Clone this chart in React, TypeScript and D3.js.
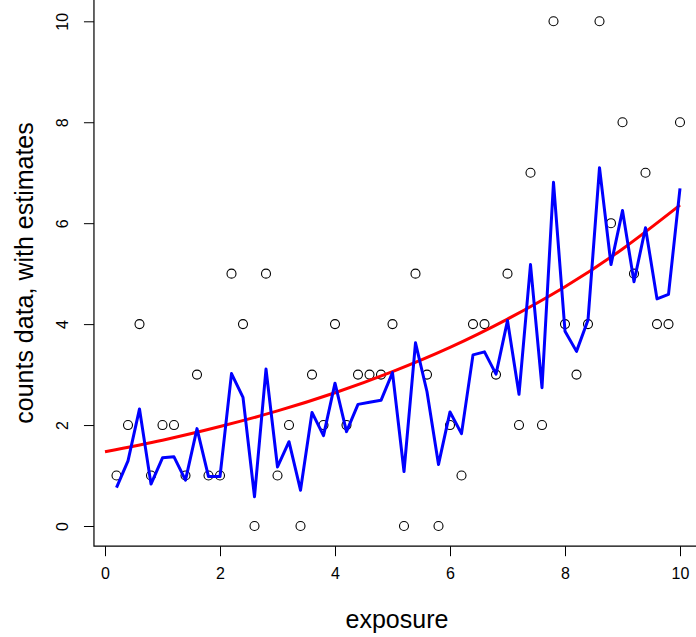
import * as d3 from 'd3';
import { useEffect, useRef } from 'react';

// observed counts at exposure 0.2, 0.4, ... 10
const exposure = [
  0.2, 0.4, 0.6, 0.8, 1.0, 1.2, 1.4, 1.6, 1.8, 2.0,
  2.2, 2.4, 2.6, 2.8, 3.0, 3.2, 3.4, 3.6, 3.8, 4.0,
  4.2, 4.4, 4.6, 4.8, 5.0, 5.2, 5.4, 5.6, 5.8, 6.0,
  6.2, 6.4, 6.6, 6.8, 7.0, 7.2, 7.4, 7.6, 7.8, 8.0,
  8.2, 8.4, 8.6, 8.8, 9.0, 9.2, 9.4, 9.6, 9.8, 10.0,
];
const counts = [
  1, 2, 4, 1, 2, 2, 1, 3, 1, 1,
  5, 4, 0, 5, 1, 2, 0, 3, 2, 4,
  2, 3, 3, 3, 4, 0, 5, 3, 0, 2,
  1, 4, 4, 3, 5, 2, 7, 2, 10, 4,
  3, 4, 10, 6, 8, 5, 7, 4, 4, 8,
];
// blue: per-point estimates
const estimates = [
  0.76, 1.29, 2.32, 0.83, 1.35, 1.37, 0.91, 1.93, 0.98, 0.98,
  3.02, 2.55, 0.58, 3.11, 1.17, 1.67, 0.71, 2.25, 1.79, 2.83,
  1.87, 2.41, 2.45, 2.49, 3.04, 1.08, 3.63, 2.66, 1.22, 2.26,
  1.83, 3.39, 3.45, 3.01, 4.07, 2.61, 5.18, 2.74, 6.81, 3.86,
  3.46, 4.08, 7.10, 5.18, 6.25, 4.84, 5.91, 4.50, 4.59, 6.69,
];
// red: fitted curve read at whole exposure values
const fitX = [0, 1, 2, 3, 4, 5, 6, 7, 8, 9, 10];
const fitY = [1.47, 1.70, 1.97, 2.28, 2.64, 3.06, 3.54, 4.10, 4.74, 5.49, 6.36];

const xTicks = [0, 2, 4, 6, 8, 10];
const yTicks = [0, 2, 4, 6, 8, 10];

const W = 696, H = 637;

const App = () => {
  const ref = useRef<SVGSVGElement>(null);

  useEffect(() => {
    const svg = d3.select(ref.current);
    svg.selectAll('*').remove();

    const x = d3.scaleLinear().domain([0, 10]).range([105, 680]);
    const y = d3.scaleLinear().domain([0, 10]).range([526, 21.3]);
    const font = 'Liberation Sans, Arial, Helvetica, sans-serif';

    // plot box (top and right fall outside the picture)
    const bx0 = x(-0.192), by0 = y(-0.4);
    svg.append('path')
      .attr('d', `M${bx0},-2 L${bx0},${by0} L${W + 5},${by0}`)
      .attr('fill', 'none')
      .attr('stroke', '#000')
      .attr('stroke-width', 1.2);

    const gx = svg.append('g').attr('transform', `translate(0,${by0})`);
    gx.call(d3.axisBottom(x).tickValues(xTicks).tickSize(10).tickPadding(11).tickFormat(d3.format('d')) as any);
    gx.select('.domain').remove();
    gx.selectAll('text').attr('font-size', 16).attr('font-family', font).attr('fill', '#000');

    const gy = svg.append('g').attr('transform', `translate(${bx0},0)`);
    gy.call(d3.axisLeft(y).tickValues(yTicks).tickSize(10).tickFormat(d3.format('d')) as any);
    gy.select('.domain').remove();
    gy.selectAll('text')
      .attr('font-size', 16)
      .attr('font-family', font)
      .attr('fill', '#000')
      .attr('x', null)
      .attr('dy', null)
      .attr('text-anchor', 'middle')
      .attr('transform', 'translate(-31,0) rotate(-90)')
      .attr('dominant-baseline', 'central');

    svg.append('text')
      .attr('x', 397)
      .attr('y', 628)
      .attr('text-anchor', 'middle')
      .attr('font-size', 25)
      .attr('font-family', font)
      .text('exposure');

    svg.append('text')
      .attr('transform', `translate(33,273) rotate(-90)`)
      .attr('text-anchor', 'middle')
      .attr('font-size', 25)
      .attr('font-family', font)
      .text('counts data, with estimates');

    // points
    svg.append('g')
      .selectAll('circle')
      .data(counts)
      .enter()
      .append('circle')
      .attr('cx', (d, i) => x(exposure[i]))
      .attr('cy', (d) => y(d))
      .attr('r', 4.5)
      .attr('fill', 'none')
      .attr('stroke', '#000')
      .attr('stroke-width', 1.1);

    // fitted curve
    const fitLine = d3.line<number>()
      .x((d, i) => x(fitX[i]))
      .y((d) => y(d))
      .curve(d3.curveNatural);
    svg.append('path')
      .attr('d', fitLine(fitY) as string)
      .attr('fill', 'none')
      .attr('stroke', '#ff0000')
      .attr('stroke-width', 3);

    // estimates
    const estLine = d3.line<number>()
      .x((d, i) => x(exposure[i]))
      .y((d) => y(d));
    svg.append('path')
      .attr('d', estLine(estimates) as string)
      .attr('fill', 'none')
      .attr('stroke', '#0000ff')
      .attr('stroke-width', 3)
      .attr('stroke-linejoin', 'round');
  }, []);

  return (
    <svg
      ref={ref}
      width={W}
      height={H}
      style={{ position: 'absolute', left: 0, top: 0, background: '#fff' }}
    ></svg>
  );
};

export default App;
